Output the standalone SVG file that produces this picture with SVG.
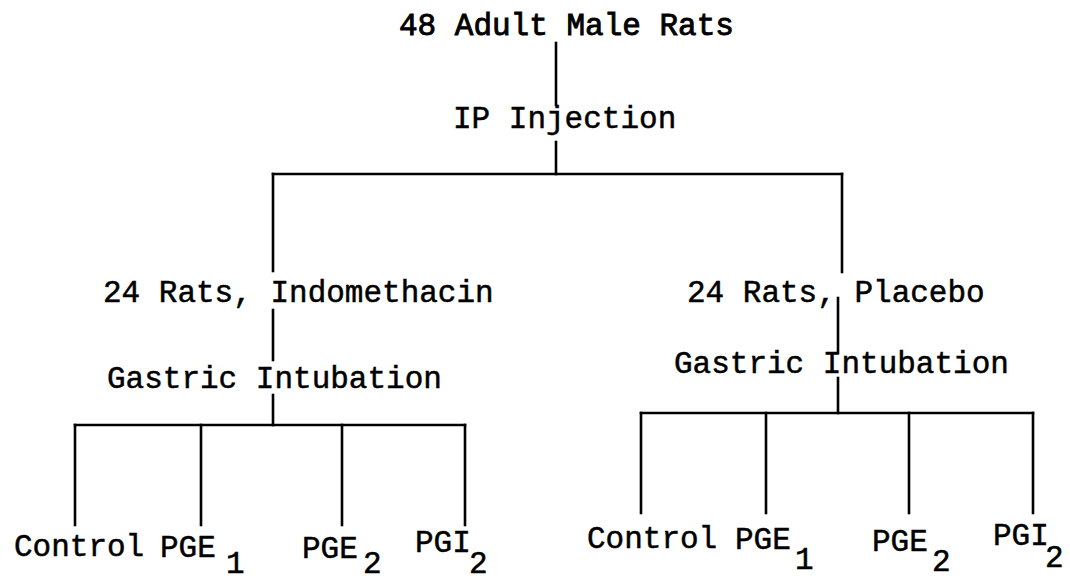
<svg xmlns="http://www.w3.org/2000/svg" width="1070" height="582" viewBox="0 0 1070 582">
<style>
  text { font-family: "Liberation Mono", "Courier New", monospace; font-size: 31px; fill: #000; stroke: #000; stroke-width: 0.5px; }
  .title { stroke-width: 0.9px; }
  .conn line { stroke: #000; stroke-width: 2.6; stroke-linecap: square; }
</style>
<rect width="1070" height="582" fill="#fff"/>
<g id="connectors" class="conn">
  <line x1="556" y1="43" x2="556" y2="105"/>
  <line x1="556" y1="142" x2="556" y2="174"/>
  <line x1="273" y1="174" x2="842" y2="174"/>
  <line x1="273" y1="174" x2="273" y2="271"/>
  <line x1="842" y1="174" x2="842" y2="272"/>
  <line x1="273" y1="310" x2="273" y2="360"/>
  <line x1="273" y1="395" x2="273" y2="425"/>
  <line x1="75" y1="425" x2="465" y2="425"/>
  <line x1="75" y1="425" x2="75" y2="525"/>
  <line x1="201" y1="425" x2="201" y2="525"/>
  <line x1="342" y1="425" x2="342" y2="525"/>
  <line x1="465" y1="425" x2="465" y2="525"/>
  <line x1="838" y1="298" x2="838" y2="353"/>
  <line x1="838" y1="378" x2="838" y2="413"/>
  <line x1="641" y1="413" x2="1033" y2="413"/>
  <line x1="641" y1="413" x2="641" y2="513"/>
  <line x1="766" y1="413" x2="766" y2="513"/>
  <line x1="909" y1="413" x2="909" y2="513"/>
  <line x1="1033" y1="413" x2="1033" y2="513"/>
</g>
<g id="n-rats48"><text class="title" x="399" y="35">48 Adult Male Rats</text></g>
<g id="n-ip"><text x="453" y="128">IP Injection</text></g>
<g id="n-indo"><text x="103" y="302">24 Rats, Indomethacin</text></g>
<g id="n-gastric-l"><text x="107" y="388">Gastric Intubation</text></g>
<g id="n-placebo"><text x="687" y="302">24 Rats, Placebo</text></g>
<g id="n-gastric-r"><text x="674" y="373">Gastric Intubation</text></g>
<g id="n-control-l"><text x="14" y="556">Control</text></g>
<g id="n-pge1-l"><text x="160" y="557">PGE</text><text x="226" y="573">1</text></g>
<g id="n-pge2-l"><text x="302" y="558">PGE</text><text x="363" y="573">2</text></g>
<g id="n-pgi2-l"><text x="415" y="552">PGI</text><text x="469" y="573">2</text></g>
<g id="n-control-r"><text x="587" y="548">Control</text></g>
<g id="n-pge1-r"><text x="735" y="549">PGE</text><text x="795" y="569">1</text></g>
<g id="n-pge2-r"><text x="872" y="551">PGE</text><text x="932" y="571">2</text></g>
<g id="n-pgi2-r"><text x="993" y="545">PGI</text><text x="1045" y="567">2</text></g>
</svg>
